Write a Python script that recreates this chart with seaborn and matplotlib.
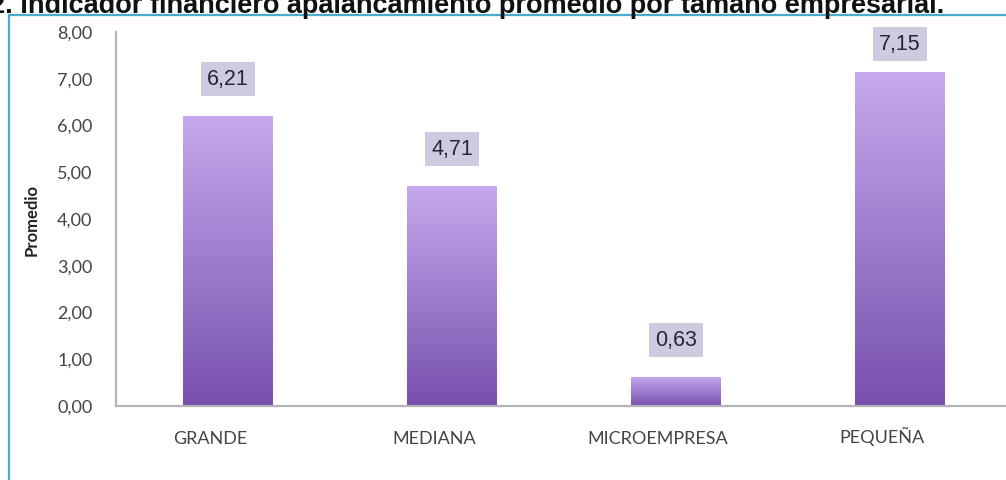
import numpy as np
import pandas as pd
import matplotlib
matplotlib.use("Agg")
import matplotlib.pyplot as plt
from matplotlib.colors import LinearSegmentedColormap
from matplotlib.patches import Rectangle
from matplotlib.ticker import FuncFormatter
from matplotlib.transforms import ScaledTranslation
import seaborn as sns

# Average leverage indicator by company size
categorias = ["GRANDE", "MEDIANA", "MICROEMPRESA", "PEQUEÑA"]
promedios = [6.21, 4.71, 0.63, 7.15]
etiquetas = ["6,21", "4,71", "0,63", "7,15"]
ticks_y = [0, 1, 2, 3, 4, 5, 6, 7, 8]

titulo = "2. Indicador financiero apalancamiento promedio por tamaño empresarial."

sns.set_theme(style="white")
plt.rcParams["font.family"] = ["Liberation Sans", "DejaVu Sans"]

fig = plt.figure(figsize=(10.06, 4.8), dpi=100)
fig.patch.set_facecolor("white")

W, H = 1006, 480
ax = fig.add_axes([116 / W, 1 - 406 / H, (1012 - 116) / W, (406 - 32) / H])

df = pd.DataFrame({"categoria": categorias, "promedio": promedios})
sns.barplot(data=df, x="categoria", y="promedio", order=categorias,
            width=0.4, color="#9a7ccc", ax=ax, saturation=1)

# vertical purple gradient inside every bar
grad = LinearSegmentedColormap.from_list("morado", ["#7750ad", "#c6a9ee"])
gradiente = np.linspace(0, 1, 256).reshape(-1, 1)
for p in ax.patches:
    x0, y0 = p.get_x(), p.get_y()
    w, h = p.get_width(), p.get_height()
    im = ax.imshow(gradiente, cmap=grad, origin="lower", aspect="auto",
                   extent=[x0, x0 + w, y0, y0 + h], zorder=2,
                   interpolation="bilinear")
    im.set_clip_path(p)
    p.set_facecolor("none")
    p.set_edgecolor("none")
ax.set_xlim(-0.5, 3.5)
ax.set_ylim(0, 8)

# value boxes above the bars
for i, (v, txt) in enumerate(zip(promedios, etiquetas)):
    y = min(v + 0.78, 7.74)
    ax.text(i, y, txt, ha="center", va="center", fontsize=15.5,
            color="#262633", family=["Liberation Sans", "DejaVu Sans"],
            bbox=dict(boxstyle="square,pad=0.3", facecolor="#cfcadf",
                      edgecolor="none"), zorder=4)

ax.set_yticks(ticks_y)
ax.yaxis.set_major_formatter(FuncFormatter(lambda v, _: f"{v:.2f}".replace(".", ",")))

for s in ["top", "right"]:
    ax.spines[s].set_visible(False)
for s in ["left", "bottom"]:
    ax.spines[s].set_color("#b3b3b3")
    ax.spines[s].set_linewidth(1.6)

ax.tick_params(axis="y", length=0, pad=17, labelsize=13, labelcolor="#444444")
ax.tick_params(axis="x", length=0, pad=27, labelsize=13, labelcolor="#444444")
shift = ScaledTranslation(-18 / 100, 0, fig.dpi_scale_trans)
for lab in ax.get_xticklabels():
    lab.set_family(["Lato", "DejaVu Sans"])
    lab.set_verticalalignment("baseline")
    lab.set_transform(lab.get_transform() + shift)
for lab in ax.get_yticklabels():
    lab.set_family(["Lato", "DejaVu Sans"])

ax.set_xlabel("")
ax.set_ylabel("Promedio", fontsize=12, fontweight="bold", color="#222222",
              family=["Lato", "DejaVu Sans"])
ax.yaxis.set_label_coords((40 - 116) / 896, 0.497)

# outer frame
fig.patches.append(Rectangle((9 / W, -0.2), 1.5, 1 - 15 / H + 0.2,
                             transform=fig.transFigure, fill=False,
                             edgecolor="#4aaccb", linewidth=1.6, zorder=0))

fig.text(-10 / W, 1 - 13 / H, titulo, ha="left", va="baseline",
         fontsize=19.5, fontweight="bold", color="#111111")

fig.savefig("out.png", dpi=100)
